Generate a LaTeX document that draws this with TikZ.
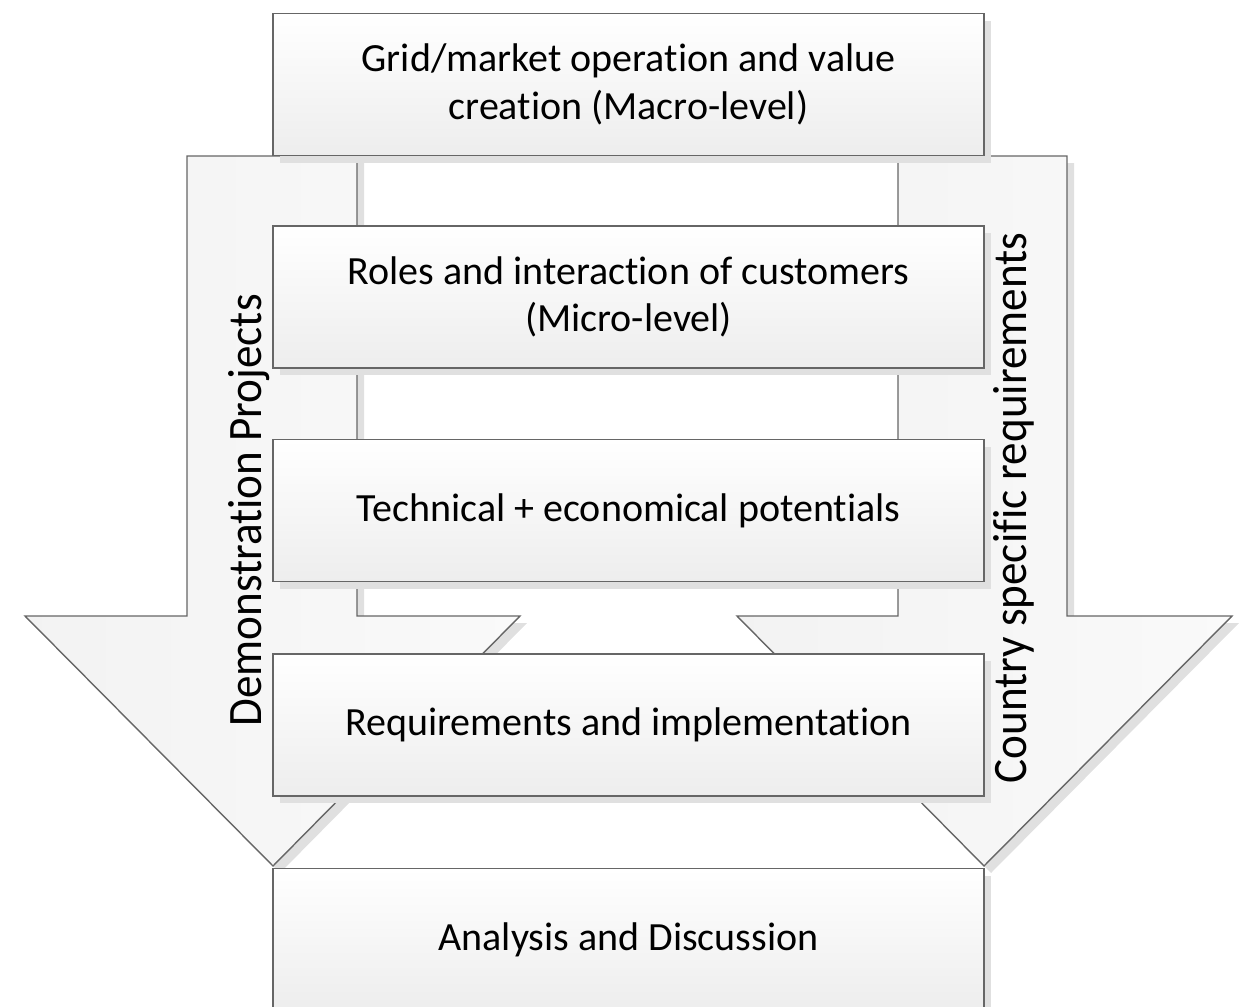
\documentclass[tikz,border=0pt]{standalone}
\usepackage{fontspec}
\setmainfont{Carlito}[Ligatures=NoCommon]
\usetikzlibrary{shadows}
\definecolor{edgegray}{HTML}{666666}
\definecolor{shadowgray}{HTML}{E0E0E0}
\tikzset{
  x=0.5pt,y=-0.5pt,
  myshadow/.style={general shadow={shadow xshift=3.5pt,shadow yshift=-3.5pt,fill=shadowgray}},
  flowbox/.style={rectangle,draw=edgegray,line width=0.7pt,top color=white,bottom color=black!7,
    minimum width=355.5pt,minimum height=71pt,inner sep=0pt,align=center,
    font=\fontsize{20}{23.8}\selectfont,myshadow},
  bigarrow/.style={draw=edgegray,line width=0.7pt,left color=black!5,right color=black!2,myshadow},
  sidelabel/.style={rotate=90,inner sep=0pt,font=\fontsize{24}{29}\selectfont}
}
\begin{document}
\begin{tikzpicture}
\useasboundingbox (0,0) rectangle (1250,1007);
\begin{scope}
\clip (0,0) rectangle (1250,1007);
% big arrows
\path[bigarrow] (187,156) -- (357,156) -- (357,616) -- (520,616) -- (273,866) -- (25,616) -- (187,616) -- cycle;
\path[bigarrow] (898,156) -- (1067,156) -- (1067,616) -- (1232,616) -- (984,866) -- (737,616) -- (898,616) -- cycle;
% boxes
\node[flowbox] (macro) at (628.5,84.5) {Grid/market operation and value\\creation (Macro-level)};
\node[flowbox] (micro) at (628.5,297) {Roles and interaction of customers\\(Micro-level)};
\node[flowbox] (tech) at (628.5,510.5) {Technical + economical potentials};
\node[flowbox] (req) at (628.5,725) {Requirements and implementation};
\node[flowbox] (analysis) at (628.5,939.5) {Analysis and Discussion};
% side labels
\node[sidelabel] (demo) at (249,510.5) {\scalebox{0.94}[1]{Demonstration Projects}};
\node[sidelabel] (country) at (1014,508) {\scalebox{0.94}[1]{Country specific requirements}};
\end{scope}
\end{tikzpicture}
\end{document}
